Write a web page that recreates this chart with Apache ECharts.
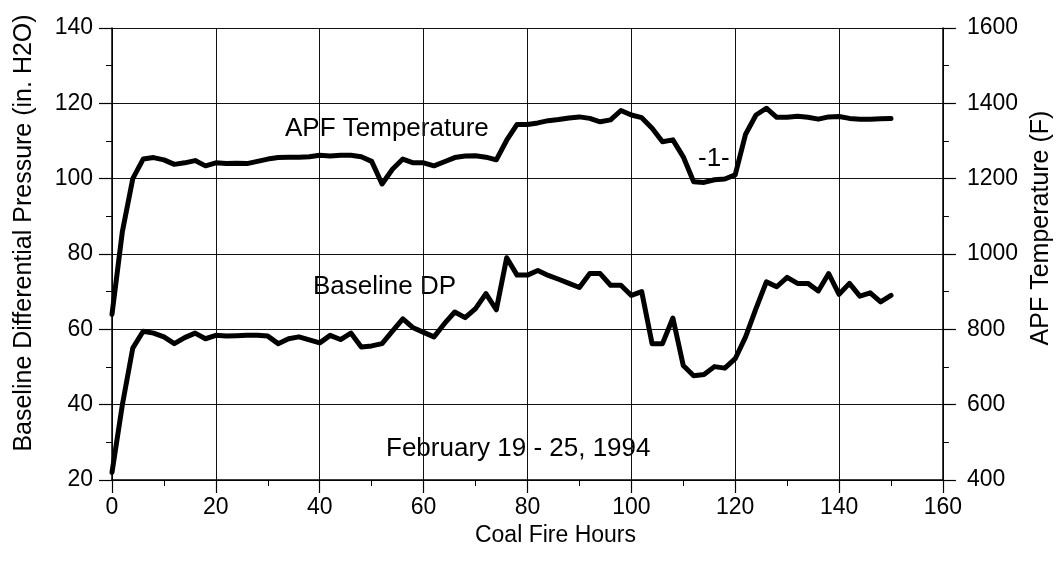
<!DOCTYPE html>
<html>
<head>
<meta charset="utf-8">
<script src="https://cdn.jsdelivr.net/npm/echarts@6/dist/echarts.min.js"></script>
<style>
html,body{margin:0;padding:0;background:#fff;}
#chart{width:1062px;height:565px;}
</style>
</head>
<body>
<div id="chart"></div>
<script>
// Coal fire hours (x)
const hours = [0,2,4,6,8,10,12,14,16,18,20,22,24,26,28,30,32,34,36,38,40,42,44,46,48,50,52,54,56,58,60,62,64,66,68,70,72,74,76,78,80,82,84,86,88,90,92,94,96,98,100,102,104,106,108,110,112,114,116,118,120,122,124,126,128,130,132,134,136,138,140,142,144,146,148,150];
// Baseline differential pressure (in. H2O), left axis
const baselineDP = [22,40,55,59.5,59,58,56.2,57.8,59,57.5,58.4,58.2,58.3,58.4,58.4,58.2,56.2,57.5,58,57.2,56.4,58.4,57.3,59,55.3,55.6,56.2,59.5,62.8,60.4,59.2,58,61.5,64.6,63.1,65.5,69.5,65.2,79,74.4,74.4,75.6,74.3,73.3,72.2,71.1,74.8,74.8,71.7,71.7,69,70,56.2,56.2,63,50.4,47.7,48,50.1,49.7,52.2,58,65.5,72.6,71.3,73.8,72.2,72.2,70.2,74.8,69.3,72.2,68.8,69.7,67.3,69];
// APF temperature (F), right axis
const apfTemp = [840,1060,1200,1252,1256,1250,1238,1242,1248,1234,1242,1240,1241,1240,1246,1252,1256,1257,1257,1258,1262,1260,1262,1262,1258,1246,1186,1225,1252,1242,1242,1234,1245,1256,1260,1261,1257,1250,1302,1344,1344,1348,1354,1357,1361,1364,1360,1351,1356,1381,1369,1362,1334,1298,1303,1258,1192,1190,1197,1199,1210,1318,1369,1387,1363,1363,1366,1363,1358,1364,1365,1360,1358,1358,1359,1360];
// Axis ranges / labels
const xTicks = {min:0, max:160, interval:20};
const leftTicks = {min:20, max:140, interval:20};
const rightTicks = {min:400, max:1600, interval:200};
const xName = 'Coal Fire Hours';
const leftName = 'Baseline Differential Pressure (in. H2O)';
const rightName = 'APF Temperature (F)';
const notes = ['APF Temperature','Baseline DP','February 19 - 25, 1994','-1-'];

const FONT = '"Liberation Sans", Arial, sans-serif';
const chart = echarts.init(document.getElementById('chart'), null, {renderer:'canvas'});
const dpData = hours.map((h,i)=>[h, baselineDP[i]]);
const tData = hours.map((h,i)=>[h, apfTemp[i]]);
const plain = v => String(v);
const axisCommon = {
  axisLine:{show:true, lineStyle:{color:'#000', width:1.5}},
  axisTick:{show:true, inside:false, length:13, lineStyle:{color:'#000', width:1.2}},
  minorTick:{show:true, splitNumber:2, length:6, lineStyle:{color:'#000', width:1}}
};
chart.setOption({
  animation:false,
  backgroundColor:'#fff',
  grid:{left:112, right:115, top:28, bottom:85, containLabel:false},
  xAxis:Object.assign({}, axisCommon, {
    type:'value', min:xTicks.min, max:xTicks.max, interval:xTicks.interval,
    name:xName, nameLocation:'middle', nameGap:42,
    nameTextStyle:{color:'#000', fontFamily:FONT, fontSize:23, padding:[0,0,0,56]},
    axisLine:{show:true, onZero:false, lineStyle:{color:'#000', width:1.5}},
    axisLabel:{color:'#000', fontFamily:FONT, fontSize:23, margin:16, formatter:plain},
    splitLine:{show:true, lineStyle:{color:'#111', width:1}}
  }),
  yAxis:[
    Object.assign({}, axisCommon, {
      type:'value', position:'left', min:leftTicks.min, max:leftTicks.max, interval:leftTicks.interval,
      name:leftName, nameLocation:'middle', nameGap:75,
      nameTextStyle:{color:'#000', fontFamily:FONT, fontSize:25, padding:[0,0,0,42]},
      axisLabel:{color:'#000', fontFamily:FONT, fontSize:23, margin:19, formatter:plain},
      splitLine:{show:true, lineStyle:{color:'#111', width:1}}
    }),
    Object.assign({}, axisCommon, {
      type:'value', position:'right', min:rightTicks.min, max:rightTicks.max, interval:rightTicks.interval,
      name:rightName, nameLocation:'middle', nameGap:86,
      nameTextStyle:{color:'#000', fontFamily:FONT, fontSize:25, padding:[0,0,0,52]},
      axisLabel:{color:'#000', fontFamily:FONT, fontSize:23, margin:24, formatter:plain},
      splitLine:{show:false}
    })
  ],
  series:[
    {type:'line', name:'Baseline DP', yAxisIndex:0, data:dpData, symbol:'none',
     lineStyle:{color:'#000', width:5, join:'round', cap:'round'}},
    {type:'line', name:'APF Temperature', yAxisIndex:1, data:tData, symbol:'none',
     lineStyle:{color:'#000', width:5, join:'round', cap:'round'}}
  ],
  graphic:[
    {type:'text', left:285, top:116, style:{text:notes[0], fill:'#000', font:'26px '+FONT}},
    {type:'text', left:313, top:274, style:{text:notes[1], fill:'#000', font:'26px '+FONT}},
    {type:'text', left:386, top:436, style:{text:notes[2], fill:'#000', font:'26px '+FONT}},
    {type:'text', left:698, top:146, style:{text:notes[3], fill:'#000', font:'26px '+FONT}}
  ]
});
</script>
</body>
</html>
